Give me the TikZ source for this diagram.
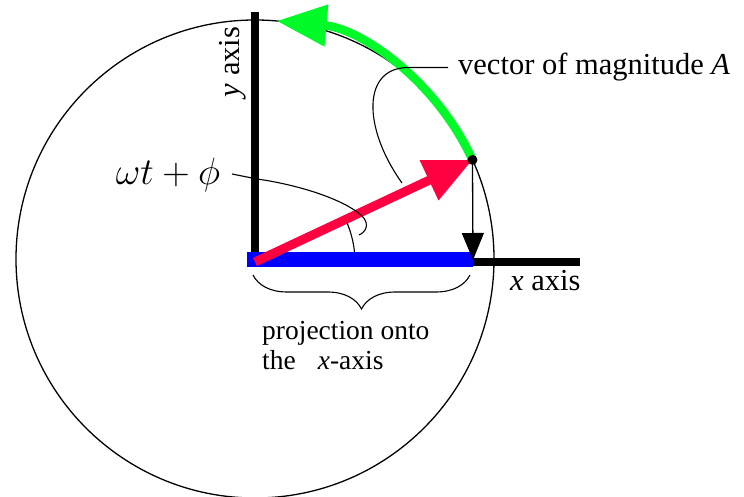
\RequirePackage{fix-cm}
\documentclass[tikz,border=0pt]{standalone}
\usepackage{fontspec}
\setmainfont{Liberation Serif}
\usetikzlibrary{arrows.meta,decorations.pathreplacing,calc}
\definecolor{vred}{RGB}{255,0,64}
\definecolor{vgreen}{RGB}{0,250,40}
\definecolor{vblue}{RGB}{0,0,255}
\tikzset{
  lbl/.style={inner sep=0pt, font=\fontsize{27.5}{30}\selectfont},
  biglbl/.style={inner sep=0pt, font=\fontsize{30.5}{33}\selectfont},
  leader/.style={line width=1.1pt, black},
  axisline/.style={line width=8.5pt, black},
}
\begin{document}
\begin{tikzpicture}[x=1pt,y=1pt]
\useasboundingbox (0,0) rectangle (744,497);
% circle
\coordinate (C) at (255,238);
\coordinate (O) at (255,235);
\draw[line width=1.3pt] (C) circle (239);
\coordinate (T) at ($(C)+(24.5:239)$);
% axes
\coordinate (Ytop) at (255,485);
\coordinate (Yb) at (255,231);
\draw[axisline] (Yb) -- (Ytop);
\coordinate (Xa) at (468,235);
\coordinate (Xb) at (580,235);
\draw[axisline] (Xa) -- (Xb);
% angle arc
\draw[leader] ($(O)+(0:100)$) arc (0:25:100);
% blue projection
\coordinate (Ba) at (247,237);
\coordinate (Bb) at (473,237);
\draw[vblue, line width=15pt] (Ba) -- (Bb);
% red vector
\draw[vred, line width=9pt, -{Triangle[length=48pt,width=42pt]}] (O) -- (T);
% green arc
\draw[vgreen, line width=8.5pt, -{Triangle[length=50pt,width=40pt]}] (T) arc (24.5:84.8:239);
% dot
\fill (T) circle (5);
% down projection arrow
\coordinate (P) at (473,237);
\draw[line width=1.3pt, -{Triangle[length=27pt,width=22pt]}] (T) -- (P);
% labels
\node[biglbl, anchor=base west] (vec) at (458,422) {vector of magnitude \textit{A}};
\draw[leader] (vec.west) ++(-10,0) coordinate (v0) -- ++(-38,0) .. controls (362,431) and (362,370) .. (402,314);
\node[inner sep=0pt, font=\fontsize{38}{40}\selectfont] (om) at (168,322) {$\omega t+\phi$};
\draw[leader] (232,323) -- (257,318) .. controls (300,312) and (345,297) .. (362,281) .. controls (370,273) and (366,265) .. (359,262);
\node[biglbl, rotate=90] (ya) at (233,435) {\textit{y} axis};
\node[biglbl, anchor=base west] (xa) at (510,206) {\textit{x} axis};
% brace
\coordinate (Ra) at (253,222);
\coordinate (Rb) at (470,222);
\draw[line width=1.1pt, decorate, decoration={brace, mirror, amplitude=34pt}] (Ra) -- (Rb);
\node[lbl, anchor=base west] (p1) at (262,157) {projection onto};
\node[lbl, anchor=base west] (p2) at (262,127) {the\hspace{0.8em}\textit{x}-axis};
\end{tikzpicture}
\end{document}
